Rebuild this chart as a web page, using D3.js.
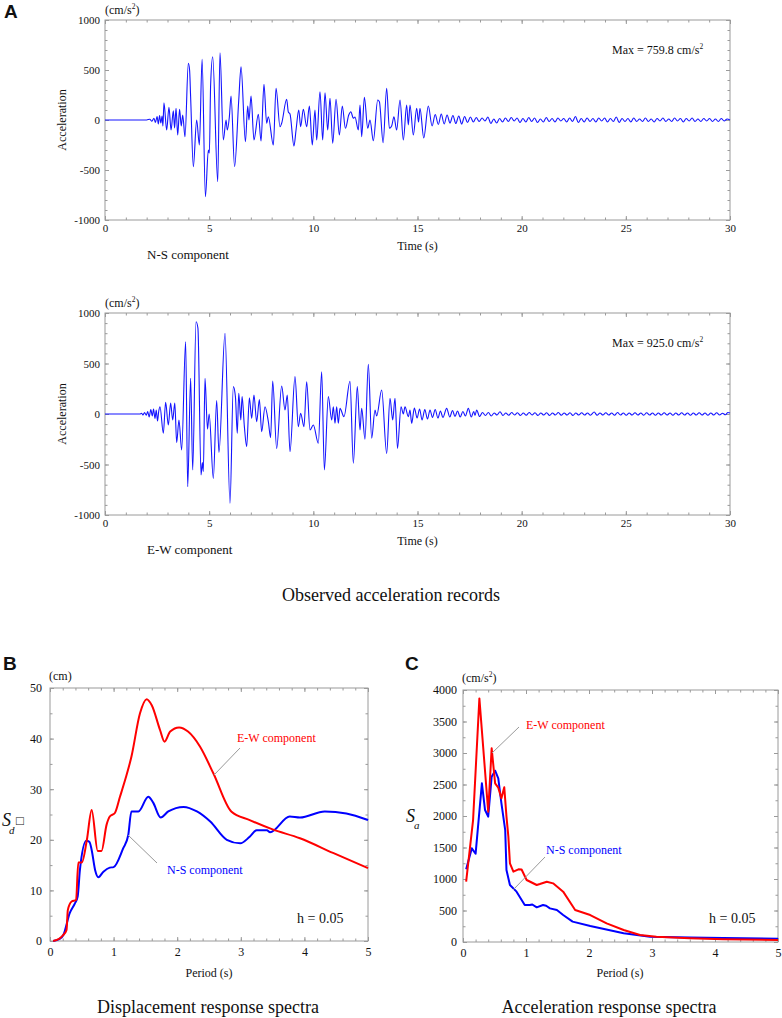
<!DOCTYPE html>
<html>
<head>
<meta charset="utf-8">
<script src="https://cdn.jsdelivr.net/npm/d3@7"></script>
<style>
  body { margin: 0; background: #fff; }
  svg { display: block; }
</style>
</head>
<body>
<div id="chart"></div>
<script>
// ===== Data =====
// Acceleration records: [time (s), acceleration (cm/s2)] at the turning points
var nsRecord = [[0,0],[2.0,0],[2.15,8],[2.25,-12],[2.35,18],[2.42,-25],[2.5,35],[2.56,-40],[2.62,45],[2.68,-30],[2.74,40],[2.78,-60],
  [2.83,173],[2.96,-100],[3.07,127],[3.17,-100],[3.28,93],[3.34,-80],[3.41,117],[3.49,-150],[3.58,107],[3.66,-60],[3.73,50],[3.84,-167],
  [4.00,567],[4.06,500],[4.11,233],[4.24,-467],[4.40,0],[4.53,-250],[4.66,607],[4.82,-767],[4.96,-300],[5.01,-330],[5.07,350],[5.17,633],
  [5.41,-617],[5.52,673],[5.68,-200],[5.81,0],[5.87,-100],[5.97,33],[6.05,240],[6.22,-467],[6.42,200],[6.53,533],[6.74,-217],[6.85,140],
  [6.91,0],[7.01,240],[7.15,-200],[7.36,57],[7.49,-210],[7.63,357],[7.76,-33],[7.84,33],[8.08,-250],[8.21,317],[8.40,-67],[8.48,-33],
  [8.72,207],[8.80,80],[8.88,60],[9.07,-260],[9.17,-100],[9.30,100],[9.39,-67],[9.52,107],[9.68,-67],[9.81,140],[9.95,-250],[10.08,100],
  [10.16,-200],[10.32,283],[10.45,-200],[10.56,273],[10.69,-100],[10.80,217],[10.93,-233],[11.09,207],[11.25,-150],[11.39,140],[11.54,-83],
  [11.70,50],[11.80,83],[11.92,17],[12.0,30],[12.16,-100],[12.24,150],[12.32,-167],[12.45,227],[12.61,-83],[12.72,0],[12.88,-207],[13.09,200],
  [13.17,183],[13.35,-227],[13.52,317],[13.65,-83],[13.76,-60],[13.87,33],[14.0,-100],[14.16,200],[14.32,-200],[14.48,150],[14.56,-50],
  [14.64,150],[14.8,-150],[14.96,117],[15.05,-20],[15.12,117],[15.3,-180],[15.52,140],[15.7,-60],[15.85,55],[16.0,-45],[16.14,60],
  [16.28,-40],[16.42,50],[16.56,-30],[16.7,45],[16.84,-35],[16.98,40],[17.12,-40],[17.26,35],[17.4,-25],[17.54,30],[17.68,-20],[17.82,25],
  [17.96,-15],[18.1,20],[18.24,-10],[18.38,30],[18.52,-35],[18.66,10],[18.8,-30],[18.94,15],[19.08,-20],[19.22,20],[19.36,-15],[19.5,25],
  [19.64,-10],[19.78,20],[19.92,-25],[20.06,15],[20.2,-20],[20.34,25],[20.48,-15],[20.62,20],[20.76,-25],[20.9,10],[21.04,-20],[21.18,25],
  [21.32,-15],[21.46,15],[21.6,-20],[21.74,20],[21.88,-10],[22.02,15],[22.16,-20],[22.3,20],[22.44,-15],[22.58,35],[22.72,-25],[22.86,15],
  [23.0,-20],[23.14,20],[23.28,-15],[23.42,15],[23.56,-20],[23.7,20],[23.84,-10],[23.98,20],[24.12,-20],[24.26,15],[24.4,-15],[24.54,30],
  [24.68,-25],[24.82,15],[24.96,-15],[25.1,15],[25.24,-20],[25.38,20],[25.52,-15],[25.66,10],[25.8,-15],[25.94,20],[26.08,-15],[26.22,10],
  [26.36,-20],[26.5,15],[26.64,-10],[26.78,20],[26.92,-15],[27.06,10],[27.2,-15],[27.34,20],[27.48,-10],[27.62,15],[27.76,-20],[27.9,15],
  [28.04,-10],[28.18,20],[28.32,-15],[28.46,10],[28.6,-15],[28.74,15],[28.88,-10],[29.02,15],[29.16,-15],[29.3,10],[29.44,-15],[29.58,15],
  [29.72,-10],[29.86,10],[30,0]];

var ewRecord = [[0,0],[1.68,0],[1.75,8],[1.82,-10],[1.9,15],[1.98,-12],[2.05,25],[2.12,-30],[2.2,45],[2.27,-20],[2.33,50],[2.4,-45],
  [2.46,40],[2.52,-70],[2.58,30],[2.64,72],[2.8,-191],[2.91,115],[3.04,-109],[3.15,109],[3.25,-59],[3.35,109],[3.44,-284],[3.55,-59],
  [3.68,-356],[3.87,716],[3.97,-720],[4.11,353],[4.21,-554],[4.37,914],[4.46,850],[4.61,-604],[4.67,-480],[4.72,-570],[4.80,353],
  [4.92,-150],[5.0,0],[5.2,-637],[5.36,132],[5.47,-380],[5.76,798],[6.0,-884],[6.16,271],[6.26,172],[6.35,-191],[6.42,205],[6.52,-59],
  [6.58,172],[6.69,-125],[6.80,-323],[6.93,161],[7.04,-43],[7.15,188],[7.28,-76],[7.41,142],[7.52,-175],[7.68,72],[7.84,-76],[7.95,-234],
  [8.05,327],[8.24,-340],[8.48,277],[8.64,39],[8.75,188],[8.88,-373],[9.12,370],[9.28,-125],[9.39,7],[9.55,-125],[9.68,320],[9.84,-158],
  [10.0,-109],[10.24,-290],[10.40,418],[10.53,-554],[10.72,172],[10.88,-59],[10.96,72],[11.04,-92],[11.12,72],[11.2,-92],[11.28,56],
  [11.47,-26],[11.76,323],[11.92,-488],[12.11,271],[12.24,-158],[12.32,56],[12.48,-250],[12.64,491],[12.8,-240],[12.96,40],[13.04,-20],
  [13.28,238],[13.52,-390],[13.68,155],[13.81,-59],[13.92,155],[14.04,-340],[14.21,72],[14.32,0],[14.40,72],[14.56,-26],[14.64,40],
  [14.72,-92],[14.85,60],[14.98,-40],[15.1,50],[15.22,-60],[15.35,45],[15.48,-50],[15.6,40],[15.72,-35],[15.85,45],[15.98,-40],[16.1,30],
  [16.22,-35],[16.4,56],[16.55,-30],[16.68,35],[16.8,-25],[16.92,30],[17.05,-30],[17.18,25],[17.3,-20],[17.44,56],[17.58,-30],[17.7,25],
  [17.76,-15],[17.84,40],[17.98,-25],[18.12,15],[18.26,-15],[18.4,15],[18.54,-20],[18.68,10],[18.82,-10],[18.96,23],[19.1,-15],[19.24,10],
  [19.38,-12],[19.52,15],[19.66,-10],[19.8,12],[19.94,-15],[20.08,10],[20.22,-12],[20.36,15],[20.5,-10],[20.64,12],[20.78,-15],[20.92,10],
  [21.06,-10],[21.2,12],[21.34,-15],[21.48,10],[21.62,-10],[21.76,15],[21.9,-12],[22.04,10],[22.18,-10],[22.32,12],[22.46,-15],[22.6,10],
  [22.74,-10],[22.88,12],[23.02,-10],[23.16,10],[23.3,-12],[23.48,20],[23.62,-12],[23.76,10],[23.9,-10],[24.04,12],[24.18,-10],[24.32,10],
  [24.46,-12],[24.6,15],[24.74,-10],[24.88,10],[25.02,-12],[25.16,10],[25.3,-10],[25.44,12],[25.58,-10],[25.72,10],[25.86,-12],[26.0,12],
  [26.14,-10],[26.28,10],[26.42,-12],[26.56,10],[26.7,-10],[26.84,12],[26.98,-10],[27.12,10],[27.26,-12],[27.4,10],[27.54,-10],[27.68,12],
  [27.82,-10],[27.96,10],[28.1,-12],[28.24,10],[28.38,-10],[28.52,12],[28.66,-10],[28.8,10],[28.94,-12],[29.08,10],[29.22,-10],[29.36,12],
  [29.5,-10],[29.64,8],[29.78,-8],[29.9,15],[30,10]];

// Displacement response spectra: [period (s), Sd (cm)]
var sdEW = [[0.05,0],[0.15,0.5],[0.21,1.2],[0.26,2.2],[0.28,6.1],[0.34,7.8],[0.41,8.1],[0.445,15.5],[0.5,15.5],[0.58,20],[0.655,25.9],
  [0.75,17.8],[0.81,17.8],[0.89,23],[0.94,24.6],[1.02,25.3],[1.10,28.5],[1.19,32.2],[1.28,36.4],[1.415,45],[1.52,47.8],[1.6,46.6],
  [1.73,41.7],[1.8,39.4],[1.89,41.4],[2.03,42.2],[2.17,41.4],[2.36,38.4],[2.57,33.1],[2.85,25.6],[3.14,23.9],[3.49,22.1],[3.93,20.3],
  [4.45,17.4],[5.0,14.4]];
var sdNS = [[0.05,0],[0.15,0.4],[0.21,1.2],[0.31,5.5],[0.39,7.4],[0.435,8.8],[0.47,14],[0.57,19.8],[0.62,19.6],[0.655,18],[0.71,14],
  [0.76,12.6],[0.84,13.7],[0.94,14.5],[1.0,14.6],[1.15,18.3],[1.23,20.9],[1.28,25.6],[1.39,25.6],[1.545,28.5],[1.62,27.4],[1.74,24.4],
  [1.86,25.6],[2.1,26.5],[2.31,25.6],[2.52,23.6],[2.78,20],[2.99,19.3],[3.14,20.6],[3.25,21.9],[3.41,21.9],[3.46,21.5],[3.77,24.6],
  [3.93,24.4],[4.32,25.6],[4.66,25.2],[5.0,23.9]];

// Acceleration response spectra: [period (s), Sa (cm/s2)]
var saEW = [[0.05,957],[0.16,1936],[0.26,3867],[0.40,2068],[0.455,3074],[0.51,2518],[0.56,2450],[0.61,2280],[0.655,2455],[0.69,1989],
  [0.72,1672],[0.745,1249],[0.80,1116],[0.88,1153],[0.93,1150],[1.01,984],[1.17,905],[1.22,920],[1.33,957],[1.43,931],[1.59,799],
  [1.78,508],[2.02,428],[2.28,296],[2.55,190],[2.81,111],[3.07,85],[3.6,58],[4.13,42],[5.0,32]];
var saNS = [[0.05,1153],[0.14,1487],[0.2,1400],[0.30,2518],[0.35,2095],[0.40,1989],[0.455,2624],[0.51,2719],[0.56,2598],[0.61,2201],
  [0.67,1777],[0.69,1143],[0.745,905],[0.85,799],[0.98,587],[1.06,587],[1.1,595],[1.17,550],[1.27,587],[1.32,575],[1.38,534],[1.49,508],
  [1.59,428],[1.74,323],[2.02,254],[2.55,138],[2.97,85],[3.6,70],[4.13,64],[5.0,50]];

// Tick values
var timeMajor = [0, 5, 10, 15, 20, 25, 30];
var accMajor = [-1000, -500, 0, 500, 1000];
var periodMajor = [0, 1, 2, 3, 4, 5];
var sdMajor = [0, 10, 20, 30, 40, 50];
var saMajor = [0, 500, 1000, 1500, 2000, 2500, 3000, 3500, 4000];

var serif = "'Liberation Serif', 'Times New Roman', serif";
var sans = "'Liberation Sans', Arial, sans-serif";
var frameColor = "#9a9a9a";

var svg = d3.select("#chart").append("svg")
    .attr("width", 782)
    .attr("height", 1018);

// Draw a boxed plot with inside ticks on all four sides
function drawFrame(x, y, o) {
    var g = svg.append("g");
    var x0 = x.range()[0], x1 = x.range()[1];
    var y0 = y.range()[0], y1 = y.range()[1];

    function ticks(axisFn, scale, tr, values, len, withLabels) {
        var a = axisFn(scale).tickValues(values).tickSizeInner(-len).tickSizeOuter(0);
        if (withLabels) a.tickPadding(o.pad[axisFn === d3.axisBottom ? 0 : 1]).tickFormat(function(d) { return String(d); });
        else a.tickFormat("");
        var s = g.append("g").attr("transform", tr).call(a);
        s.select(".domain").remove();
        s.selectAll("line").attr("stroke", frameColor);
        s.selectAll("text").attr("font-family", serif).attr("font-size", o.fs).attr("fill", "#111");
    }
    var xMinor = d3.range(x.domain()[0], x.domain()[1] + 1e-9, o.xMinor);
    var yMinor = d3.range(y.domain()[0], y.domain()[1] + 1e-9, o.yMinor);

    ticks(d3.axisBottom, x, "translate(0," + y0 + ")", xMinor, 2.5, false);
    ticks(d3.axisBottom, x, "translate(0," + y0 + ")", o.xMajor, 4, true);
    ticks(d3.axisTop, x, "translate(0," + y1 + ")", xMinor, 2.5, false);
    ticks(d3.axisTop, x, "translate(0," + y1 + ")", o.xMajor, 4, false);
    ticks(d3.axisLeft, y, "translate(" + x0 + ",0)", yMinor, 2.5, false);
    ticks(d3.axisLeft, y, "translate(" + x0 + ",0)", o.yMajor, 4, true);
    ticks(d3.axisRight, y, "translate(" + x1 + ",0)", yMinor, 2.5, false);
    ticks(d3.axisRight, y, "translate(" + x1 + ",0)", o.yMajor, 4, false);

    g.append("rect")
        .attr("x", x0).attr("y", y1)
        .attr("width", x1 - x0).attr("height", y0 - y1)
        .attr("fill", "none")
        .attr("stroke", frameColor)
        .attr("stroke-width", 1);
}

function addText(x, y, str, size, opts) {
    opts = opts || {};
    return svg.append("text")
        .attr("x", x).attr("y", y)
        .attr("font-family", opts.family || serif)
        .attr("font-size", size)
        .attr("font-weight", opts.weight || "normal")
        .attr("font-style", opts.style || "normal")
        .attr("text-anchor", opts.anchor || "start")
        .attr("fill", opts.fill || "#111")
        .text(str);
}

// text with a superscript 2 at the end of "cm/s"
function unitText(x, y, pre, post, size, anchor) {
    var t = svg.append("text")
        .attr("x", x).attr("y", y)
        .attr("font-family", serif)
        .attr("font-size", size)
        .attr("text-anchor", anchor || "start")
        .attr("fill", "#111");
    t.append("tspan").text(pre);
    t.append("tspan").attr("font-size", size * 0.62).attr("dy", -size * 0.42).text("2");
    if (post) t.append("tspan").attr("dy", size * 0.42).text(post);
    return t;
}

function leader(x1, y1, x2, y2) {
    svg.append("line")
        .attr("x1", x1).attr("y1", y1).attr("x2", x2).attr("y2", y2)
        .attr("stroke", "#999").attr("stroke-width", 1);
}

//////////////////////////////////
// Panel A: acceleration records
//////////////////////////////////
function drawRecord(data, top, bottom, maxLabel, compLabel) {
    var x = d3.scaleLinear().domain([0, 30]).range([105, 730]);
    var y = d3.scaleLinear().domain([-1000, 1000]).range([bottom, top]);
    drawFrame(x, y, { xMajor: timeMajor, xMinor: 1, yMajor: accMajor, yMinor: 100, fs: 11, pad: [4, 5] });

    svg.append("path")
        .datum(data)
        .attr("fill", "none")
        .attr("stroke", "#1414ff")
        .attr("stroke-width", 1.1)
        .attr("stroke-linejoin", "round")
        .attr("d", d3.line()
            .x(function(d) { return x(d[0]); })
            .y(function(d) { return y(d[1]); })
            .curve(d3.curveMonotoneX));

    unitText(105, top - 6, "(cm/s", ")", 12);
    unitText(612, top + 34, maxLabel, null, 12);
    addText(147, bottom + 39, compLabel, 13);
    addText((x.range()[0] + x.range()[1]) / 2, bottom + 30, "Time (s)", 12, { anchor: "middle" });
    addText(0, 0, "Acceleration", 12, { anchor: "middle" })
        .attr("transform", "translate(66," + ((top + bottom) / 2) + ") rotate(-90)");
}

addText(4, 18, "A", 19, { family: sans, weight: "bold" });
drawRecord(nsRecord, 20, 220, "Max = 759.8 cm/s", "N-S component");
drawRecord(ewRecord, 313, 515, "Max = 925.0 cm/s", "E-W component");
addText(391, 601, "Observed acceleration records", 18, { anchor: "middle" });

//////////////////////////////////
// Panel B: displacement spectra
//////////////////////////////////
(function() {
    var x = d3.scaleLinear().domain([0, 5]).range([50, 368]);
    var y = d3.scaleLinear().domain([0, 50]).range([941, 688]);
    drawFrame(x, y, { xMajor: periodMajor, xMinor: 0.2, yMajor: sdMajor, yMinor: 5, fs: 12, pad: [6, 8] });
    var line = d3.line()
        .x(function(d) { return x(d[0]); })
        .y(function(d) { return y(d[1]); })
        .curve(d3.curveMonotoneX);
    [[sdNS, "#0000ff"], [sdEW, "#ff0000"]].forEach(function(s) {
        svg.append("path").datum(s[0])
            .attr("fill", "none").attr("stroke", s[1]).attr("stroke-width", 2)
            .attr("stroke-linejoin", "round").attr("d", line);
    });
    leader(240, 748, 214, 775);
    leader(157, 863, 128, 835);
    addText(237, 742, "E-W component", 12, { fill: "#ff0000" });
    addText(167, 874, "N-S component", 12, { fill: "#0000ff" });
    addText(297, 923, "h = 0.05", 14);
    addText(49, 680, "(cm)", 12);
    addText(3, 670, "B", 19, { family: sans, weight: "bold" });
    addText(209, 977, "Period (s)", 12, { anchor: "middle" });
    addText(208, 1013, "Displacement response spectra", 18, { anchor: "middle" });
    addText(2, 826, "S", 18, { style: "italic" });
    addText(9, 834, "d", 11, { style: "italic" });
    addText(16, 825, "\u25A1", 13);
})();

//////////////////////////////////
// Panel C: acceleration spectra
//////////////////////////////////
(function() {
    var x = d3.scaleLinear().domain([0, 5]).range([463, 778]);
    var y = d3.scaleLinear().domain([0, 4000]).range([942, 690]);
    drawFrame(x, y, { xMajor: periodMajor, xMinor: 0.2, yMajor: saMajor, yMinor: 250, fs: 12, pad: [6, 6] });
    var line = d3.line()
        .x(function(d) { return x(d[0]); })
        .y(function(d) { return y(d[1]); });
    [[saNS, "#0000ff"], [saEW, "#ff0000"]].forEach(function(s) {
        svg.append("path").datum(s[0])
            .attr("fill", "none").attr("stroke", s[1]).attr("stroke-width", 2)
            .attr("stroke-linejoin", "round").attr("d", line);
    });
    leader(519, 727, 492, 753);
    leader(545, 857, 513, 890);
    addText(526, 729, "E-W component", 12, { fill: "#ff0000" });
    addText(546, 854, "N-S component", 12, { fill: "#0000ff" });
    addText(709, 923, "h = 0.05", 14);
    unitText(462, 682, "(cm/s", ")", 12);
    addText(405, 670, "C", 19, { family: sans, weight: "bold" });
    addText(620, 977, "Period (s)", 12, { anchor: "middle" });
    addText(609, 1013, "Acceleration response spectra", 18, { anchor: "middle" });
    addText(406, 822, "S", 18, { style: "italic" });
    addText(414, 829, "a", 11, { style: "italic" });
})();
</script>
</body>
</html>
